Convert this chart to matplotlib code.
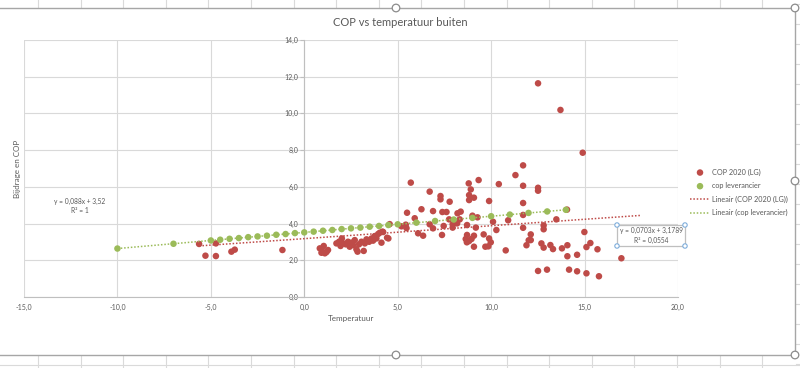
import matplotlib
matplotlib.use("Agg")
import matplotlib.pyplot as plt
from matplotlib.lines import Line2D
from matplotlib.patches import Rectangle, Circle
from matplotlib.ticker import FuncFormatter, MultipleLocator

plt.rcParams['font.family'] = ['Lato', 'DejaVu Sans']

# COP 2020 (LG) measurements: outside temperature vs COP
temp_lg = [-5.63, -5.29, -4.73, -4.73, -3.90, -3.72, -1.17,
           0.83, 0.97, 1.10, 1.27, 0.92, 1.04, 1.19, 1.72, 1.86, 1.94, 2.01, 2.08, 2.22,
           2.34, 2.43, 2.53, 2.61, 2.70, 2.79, 2.85, 2.93, 3.06, 3.18, 3.24, 3.33, 3.47,
           3.60, 3.68, 3.77, 3.86, 3.95, 4.04, 4.13, 4.18, 4.22, 4.43, 4.57, 4.50,
           5.20, 5.43, 5.47, 5.50, 5.70, 5.91, 6.09, 6.27, 6.36, 6.71, 6.71, 6.89, 6.89,
           7.29, 7.29, 7.37, 7.39, 7.46, 7.61, 7.75, 7.78, 7.94, 7.94, 8.18, 8.20, 8.32,
           8.37, 8.64, 8.70, 8.71, 8.71, 8.80, 8.82, 8.82, 8.82, 8.91, 8.95, 9.00, 9.08,
           9.08, 9.08, 9.18, 9.27, 9.33, 9.60, 9.69, 9.85, 9.89, 9.89, 9.98, 10.10, 10.28,
           10.41, 10.78, 10.91, 11.30, 11.71, 11.71, 11.71, 11.71, 11.71, 11.89, 12.01,
           12.12, 12.12, 12.51, 12.51, 12.51, 12.51, 12.69, 12.81, 12.81, 12.81, 12.99,
           13.17, 13.31, 13.49, 13.71, 13.79, 14.06, 14.08, 14.08, 14.17, 14.60, 14.60,
           14.90, 14.99, 15.10, 15.10, 15.31, 15.69, 15.77, 16.97]
cop_lg = [2.89, 2.25, 2.92, 2.23, 2.47, 2.58, 2.56,
          2.65, 2.47, 2.38, 2.56, 2.41, 2.78, 2.45, 2.92, 3.01, 2.78, 3.19, 2.92, 2.87,
          3.01, 2.74, 2.96, 2.83, 3.10, 2.60, 2.47, 2.87, 3.01, 2.51, 2.92, 3.14, 3.01,
          3.19, 3.07, 3.32, 3.19, 3.43, 3.50, 2.96, 3.56, 3.54, 3.23, 3.97, 3.19,
          3.85, 3.94, 3.75, 4.59, 6.23, 4.29, 3.47, 4.78, 3.34, 5.74, 3.96, 4.68, 3.74,
          5.50, 5.32, 3.38, 4.63, 3.87, 4.63, 4.23, 5.19, 3.96, 3.78, 4.01, 4.56, 4.23,
          4.65, 3.16, 2.98, 3.92, 3.38, 6.19, 5.55, 5.28, 3.05, 5.86, 3.16, 4.43, 5.41,
          3.34, 2.74, 3.78, 4.34, 6.37, 3.41, 2.74, 2.76, 5.23, 3.19, 2.98, 4.10, 3.65,
          6.15, 2.54, 4.18, 6.64, 7.17, 6.06, 5.12, 4.47, 3.77, 2.82, 3.09,
          3.10, 3.41, 11.64, 5.95, 5.79, 1.42, 2.92, 3.90, 3.69, 2.69, 1.49,
          2.83, 2.61, 4.23, 10.19, 2.65, 4.76, 2.82, 2.22, 1.49, 2.30, 1.40,
          7.86, 3.54, 2.72, 1.29, 2.94, 2.60, 1.13, 2.11]

# cop leverancier (supplier curve)
temp_lev = [-10, -7, -5, -4.5, -4, -3.5, -3, -2.5, -2, -1.5, -1, -0.5, 0, 0.5, 1, 1.5,
            2, 2.5, 3, 3.5, 4, 4.5, 5, 6, 7, 8, 9, 10, 11, 12, 13, 14]
cop_lev = [2.64, 2.90, 3.08, 3.12, 3.17, 3.21, 3.26, 3.30, 3.34, 3.39, 3.43, 3.48, 3.52,
           3.56, 3.61, 3.65, 3.70, 3.74, 3.78, 3.83, 3.87, 3.92, 3.96, 4.05, 4.14, 4.22,
           4.31, 4.40, 4.49, 4.58, 4.66, 4.75]

# trendline coefficients as shown in the chart
lg_slope, lg_icept, lg_r2 = 0.0703, 3.1789, 0.0554
lev_slope, lev_icept, lev_r2 = 0.088, 3.52, 1
lg_trend_end = 18

red = '#BE4B48'
green = '#9BBB59'
txt = '#595959'

W, H = 800, 368
fig = plt.figure(figsize=(8, 3.68), dpi=100)


def fx(px):
    return px / W


def fy(py):
    return 1 - py / H


# spreadsheet cells around the chart object
cell = '#DADADA'
for k in range(19):
    x = fx(38 + 42.6 * k)
    fig.add_artist(Line2D([x, x], [fy(0), fy(7)], color=cell, lw=0.8))
    fig.add_artist(Line2D([x, x], [fy(356), fy(368)], color=cell, lw=0.8))
fig.add_artist(Line2D([0, 1], [fy(365), fy(365)], color=cell, lw=0.8))
for k in range(19):
    y = fy(4 + 20 * k)
    fig.add_artist(Line2D([fx(796), 1], [y, y], color=cell, lw=0.8))

# chart frame and selection handles
frame = '#A6A6A6'
fig.add_artist(Line2D([0, fx(795)], [fy(8), fy(8)], color=frame, lw=1))
fig.add_artist(Line2D([0, fx(795)], [fy(355), fy(355)], color=frame, lw=1))
fig.add_artist(Line2D([fx(795), fx(795)], [fy(8), fy(355)], color=frame, lw=1))
for hx, hy in [(396, 8), (795, 8), (795, 181), (396, 355), (795, 355)]:
    fig.add_artist(Circle((hx, H - hy), 3.8, transform=None, facecolor='white',
                          edgecolor='#8C8C8C', lw=0.9, zorder=10))

ax = fig.add_axes([fx(24), fy(297), (678 - 24) / W, (297 - 40) / H])
ax.set_xlim(-15, 20)
ax.set_ylim(0, 14)
ax.xaxis.set_major_locator(MultipleLocator(5))
ax.yaxis.set_major_locator(MultipleLocator(2))
comma = FuncFormatter(lambda v, p: f"{v:.1f}".replace('.', ','))
ax.xaxis.set_major_formatter(comma)
ax.yaxis.set_major_formatter(comma)
ax.grid(True, color='#D9D9D9', lw=0.8)
ax.set_axisbelow(True)
for s in ['top', 'right']:
    ax.spines[s].set_visible(False)
ax.spines['left'].set_position(('data', 0))
ax.spines['left'].set_color('#BFBFBF')
ax.spines['bottom'].set_color('#BFBFBF')
ax.tick_params(axis='y', length=3, color='#BFBFBF', labelsize=5, labelcolor=txt, pad=1)
ax.tick_params(axis='x', length=0, labelsize=5, labelcolor=txt, pad=5)

ax.scatter(temp_lg, cop_lg, s=22, color=red, edgecolors='none', zorder=3, label='COP 2020 (LG)')
ax.scatter(temp_lev, cop_lev, s=22, color=green, edgecolors='none', zorder=4, label='cop leverancier')

lg_x = [min(temp_lg), lg_trend_end]
lev_x = [min(temp_lev), max(temp_lev)]
ax.plot(lg_x, [lg_slope * v + lg_icept for v in lg_x], ls=(0, (1, 1.2)), lw=1.1,
        color=red, zorder=5, label='Lineair (COP 2020 (LG))')
ax.plot(lev_x, [lev_slope * v + lev_icept for v in lev_x], ls=(0, (1, 1.2)), lw=1.1,
        color=green, zorder=5, label='Lineair (cop leverancier)')

ax.set_xlabel('Temperatuur', fontsize=5.8, color=txt)
ax.xaxis.set_label_coords(0.5, -0.07)
ax.set_ylabel('Bijdrage en COP', fontsize=5.8, color=txt)
ax.yaxis.set_label_coords(-0.004, 0.5)

fig.text(0.5, fy(22), 'COP vs temperatuur buiten', fontsize=8, color=txt,
         ha='center', va='center')

leg = ax.legend(loc='upper left', bbox_to_anchor=(fx(687), fy(165.5)),
                bbox_transform=fig.transFigure, frameon=False, fontsize=5.2,
                labelcolor=txt, handlelength=2.8, handletextpad=0.3,
                labelspacing=0.9, borderaxespad=0, scatterpoints=1)

# trendline labels
fig.text(fx(80), fy(206), f'y = {lev_slope:.3f}x + {lev_icept:.2f}'.replace('.', ',') + f'\nR² = {lev_r2}',
         fontsize=4.8, color=txt, ha='center', va='center', linespacing=1.45)
fig.add_artist(Rectangle((fx(617), fy(246)), fx(685 - 617), (246 - 225) / H,
                         transform=fig.transFigure, facecolor='white',
                         edgecolor='#BFBFBF', lw=0.9, zorder=6))
fig.text(fx(651), fy(235.5), f'y = {lg_slope:.4f}x + {lg_icept:.4f}'.replace('.', ',') +
         f'\nR² = {lg_r2:.4f}'.replace('.', ','),
         fontsize=4.8, color=txt, ha='center', va='center', linespacing=1.45, zorder=7)
for hx, hy in [(617, 225), (685, 225), (617, 246), (685, 246)]:
    fig.add_artist(Circle((hx, H - hy), 2.2, transform=None, facecolor='white',
                          edgecolor='#7FAEDB', lw=0.8, zorder=8))

fig.savefig('out.png', dpi=100)
